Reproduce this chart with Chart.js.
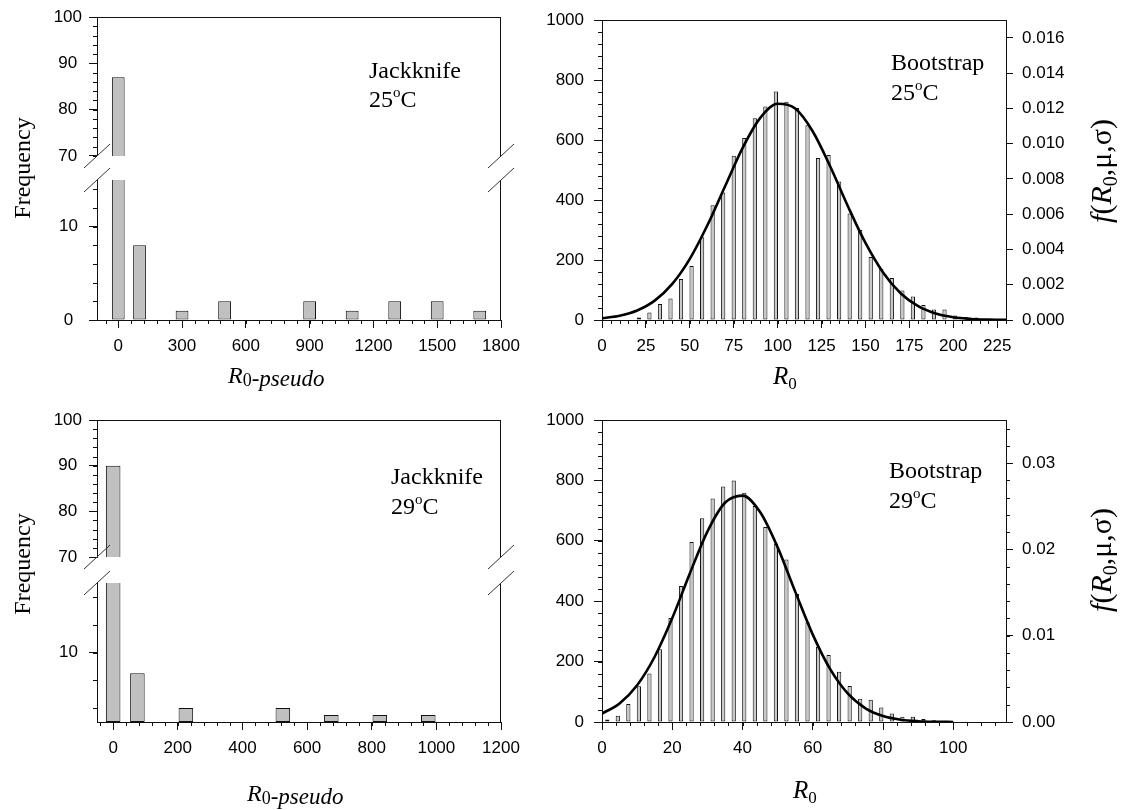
<!DOCTYPE html>
<html>
<head>
<meta charset="utf-8">
<script src="https://cdn.jsdelivr.net/npm/chart.js"></script>
<style>
  html, body { margin: 0; padding: 0; background: #fff; }
  #fig { position: relative; width: 1123px; height: 810px; overflow: hidden; background: #fff; }
  #fig canvas { position: absolute; left: 0; top: 0; }
</style>
</head>
<body>
<div id="fig"></div>
<script>
// Jackknife 25 oC: R0-pseudo bin centres and frequencies
const jack25Bins = [0, 100, 300, 500, 900, 1100, 1300, 1500, 1700];
const jack25Freq = [87, 8, 1, 2, 2, 1, 2, 2, 1];

// Jackknife 29 oC
const jack29Bins = [0, 75, 225, 525, 675, 825, 975];
const jack29Freq = [90, 7, 2, 2, 1, 1, 1];

// Bootstrap 25 oC: R0 bin centres (width 6) and counts
const boot25Bins = [21, 27, 33, 39, 45, 51, 57, 63, 69, 75, 81, 87, 93, 99, 105, 111, 117, 123,
  129, 135, 141, 147, 153, 159, 165, 171, 177, 183, 189, 195, 201, 207, 213, 219, 225];
const boot25Count = [8, 25, 53, 72, 137, 180, 276, 383, 425, 548, 607, 673, 712, 762, 728, 707, 650, 540,
  550, 462, 355, 300, 210, 170, 140, 98, 78, 50, 35, 35, 15, 10, 8, 3, 2];
// fitted density f(R0,mu,sigma)
const fit25R0 = [0, 10, 20, 30, 40, 50, 60, 70, 80, 90, 100, 110, 120, 130, 140, 150, 160, 170, 180, 190, 200, 210, 220, 230];
const fit25Dens = [0.000099, 0.000242, 0.00054, 0.0011, 0.00205, 0.00347, 0.00537, 0.00757, 0.00975, 0.01145,
  0.01226, 0.01199, 0.01069, 0.00869, 0.00645, 0.00437, 0.0027, 0.00152, 0.00078, 0.000366, 0.000156,
  0.000061, 0.000022, 0.000007];

// Bootstrap 29 oC: R0 bin centres (width 3) and counts
const boot29Bins = [1.5, 4.5, 7.5, 10.5, 13.5, 16.5, 19.5, 22.5, 25.5, 28.5, 31.5, 34.5, 37.5, 40.5, 43.5,
  46.5, 49.5, 52.5, 55.5, 58.5, 61.5, 64.5, 67.5, 70.5, 73.5, 76.5, 79.5, 82.5, 85.5, 88.5, 91.5, 94.5,
  97.5, 100.5, 103.5];
const boot29Count = [8, 21, 60, 118, 161, 241, 344, 450, 596, 675, 740, 780, 800, 759, 715, 646, 591, 538,
  424, 330, 249, 222, 166, 119, 77, 74, 48, 28, 17, 17, 10, 6, 3, 2, 1];
const fit29R0 = [0, 5, 10, 15, 20, 25, 30, 35, 40, 45, 50, 55, 60, 65, 70, 75, 80, 85, 90, 95, 100];
const fit29Dens = [0.00098, 0.00215, 0.00426, 0.00756, 0.01204, 0.01721, 0.02207, 0.02541, 0.02624, 0.02433,
  0.02024, 0.01511, 0.01013, 0.00609, 0.00328, 0.00159, 0.00069, 0.00027, 0.000094, 0.00003, 0.0000084];

const W = 1123, H = 810;
const SANS = '"Liberation Sans", Arial, sans-serif';
const SERIF = '"Liberation Serif", "Times New Roman", serif';
const INK = '#111';

const serif = (size, italic) => (italic ? 'italic ' : '') + size + 'px ' + SERIF;
const pts = (xs, ys) => xs.map((x, i) => ({ x: x, y: ys[i] }));

// page rectangle of the plot area -> layout padding on a full-page canvas
function box(L, T, R, B, yW, xH, rW) {
  return { autoPadding: false, padding: { left: L - yW, top: T, right: W - R - (rW || 0), bottom: H - B - (xH || 0) } };
}

function linAxis(o) {
  const horiz = o.pos === 'bottom';
  const a = {
    type: 'linear', position: o.pos, display: o.display !== false,
    min: o.min, max: o.max, offset: false,
    border: { display: true, color: INK, width: 1 },
    grid: { drawOnChartArea: false, offset: false, tickLength: o.tickLen || 8, tickColor: INK, tickWidth: 1 },
    ticks: {
      stepSize: o.step, includeBounds: false, autoSkip: false, maxRotation: 0, minRotation: 0,
      padding: o.pad != null ? o.pad : 3, crossAlign: o.cross || 'near',
      color: '#000', font: { family: SANS, size: 17 },
      callback: o.fmt || (v => String(v))
    },
    afterFit: horiz ? (s => { s.height = o.size; }) : (s => { s.width = o.size; })
  };
  if (o.only) a.afterBuildTicks = s => { s.ticks = o.only.map(v => ({ value: v })); };
  return a;
}

function barSet(xs, ys, fill, pct, axisId) {
  return {
    type: 'bar', data: pts(xs, ys), backgroundColor: fill, borderColor: INK, borderWidth: 1,
    borderSkipped: false, barPercentage: pct, categoryPercentage: 1, clip: 0, order: 1,
    yAxisID: axisId || 'y'
  };
}

function curveSet(xs, ys) {
  return {
    type: 'line', data: pts(xs, ys), borderColor: '#000', borderWidth: 2.6, pointRadius: 0,
    fill: false, cubicInterpolationMode: 'monotone', order: 0, yAxisID: 'y2'
  };
}

// minor tick marks: [scaleId, from, to, step, length]
function minorPlugin(list) {
  return {
    id: 'minor',
    afterDraw(chart) {
      const ctx = chart.ctx;
      ctx.save(); ctx.strokeStyle = INK; ctx.lineWidth = 1; ctx.beginPath();
      list.forEach(([id, from, to, step, len]) => {
        const s = chart.scales[id];
        const n = Math.round((to - from) / step);
        for (let i = 0; i <= n; i++) {
          const p = Math.round(s.getPixelForValue(from + i * step));
          if (s.isHorizontal()) { ctx.moveTo(p + 0.5, s.top); ctx.lineTo(p + 0.5, s.top + len); }
          else if (s.position === 'left') { ctx.moveTo(s.right, p + 0.5); ctx.lineTo(s.right - len, p + 0.5); }
          else { ctx.moveTo(s.left, p + 0.5); ctx.lineTo(s.left + len, p + 0.5); }
        }
      });
      ctx.stroke(); ctx.restore();
    }
  };
}

// frame lines and axis-break marks
function framePlugin(o) {
  return {
    id: 'frame',
    afterDraw(chart) {
      const ctx = chart.ctx, a = chart.chartArea;
      ctx.save(); ctx.strokeStyle = INK; ctx.lineWidth = 1; ctx.beginPath();
      if (o.top) { const y = Math.round(a.top) + 0.5; ctx.moveTo(a.left, y); ctx.lineTo(a.right, y); }
      if (o.right) { const x = Math.round(a.right) - 0.5; ctx.moveTo(x, a.top); ctx.lineTo(x, a.bottom); }
      ctx.stroke();
      if (o.brk) {
        ctx.strokeStyle = '#333'; ctx.beginPath();
        const y = o.brk === 'bottom' ? a.bottom : a.top;
        [a.left, a.right].forEach(x => { ctx.moveTo(x - 13, y + 12); ctx.lineTo(x + 13, y - 12); });
        ctx.stroke();
      }
      ctx.restore();
    }
  };
}

function richWidth(ctx, parts) {
  let w = 0;
  parts.forEach(p => { ctx.font = p[1]; w += ctx.measureText(p[0]).width; });
  return w;
}
function rich(ctx, parts, x, y) {
  let cx = x;
  parts.forEach(p => { ctx.font = p[1]; ctx.fillText(p[0], cx, y + (p[2] || 0)); cx += ctx.measureText(p[0]).width; });
}
function textPlugin(items) {
  return {
    id: 'labels',
    afterDraw(chart) {
      const ctx = chart.ctx;
      ctx.save(); ctx.fillStyle = '#000'; ctx.textAlign = 'left'; ctx.textBaseline = 'alphabetic';
      items.forEach(it => {
        if (it.rot) {
          ctx.save(); ctx.translate(it.x, it.y); ctx.rotate(-Math.PI / 2);
          rich(ctx, it.parts, -richWidth(ctx, it.parts) / 2, 0);
          ctx.restore();
        } else {
          rich(ctx, it.parts, it.x, it.y);
        }
      });
      ctx.restore();
    }
  };
}

const degree = t => [[t, serif(24)], ['o', serif(15), -10], ['C', serif(24)]];
const pseudo = [['R', serif(24, true)], ['0', serif(18), 3], ['-pseudo', serif(23, true), 3]];
const r0 = [['R', serif(25, true)], ['0', serif(17), 5]];
const fLabel = [['f', serif(30, true)], ['(', serif(30)], ['R', serif(30, true)], ['0', serif(20), 6], [',\u03bc,\u03c3)', serif(30)]];

function addChart(config) {
  const c = document.createElement('canvas');
  c.width = W; c.height = H;
  c.style.width = W + 'px'; c.style.height = H + 'px';
  document.getElementById('fig').appendChild(c);
  config.options.responsive = false;
  config.options.animation = false;
  config.options.events = [];
  config.options.plugins = { legend: { display: false }, tooltip: { enabled: false } };
  return new Chart(c, config);
}

const JK_FILL = '#c0c0c0';
const BS_FILL = '#c8c8c8';

// ---- top left: jackknife 25 oC, upper part of broken axis
addChart({
  type: 'bar',
  data: { datasets: [barSet(jack25Bins, jack25Freq, JK_FILL, 0.6)] },
  options: {
    layout: box(97, 16, 501, 156, 60, 0),
    scales: {
      x: linAxis({ pos: 'bottom', min: -100, max: 1800, step: 300, size: 0, display: false }),
      y: linAxis({ pos: 'left', min: 70, max: 100, step: 10, size: 60, pad: 7, cross: 'center' })
    }
  },
  plugins: [minorPlugin([['y', 70, 100, 2, 4]]), framePlugin({ top: true, right: true, brk: 'bottom' })]
});

// ---- top left: lower part
addChart({
  type: 'bar',
  data: { datasets: [barSet(jack25Bins, jack25Freq, JK_FILL, 0.6)] },
  options: {
    layout: box(97, 180, 501, 320, 60, 45),
    scales: {
      x: linAxis({ pos: 'bottom', min: -100, max: 1800, step: 300, size: 45, pad: 8 }),
      y: linAxis({ pos: 'left', min: 0, max: 15, step: 10, size: 60, pad: 11, cross: 'center' })
    }
  },
  plugins: [
    minorPlugin([['x', -60, 1800, 60, 4], ['y', 0, 14, 2, 4]]),
    framePlugin({ right: true, brk: 'top' }),
    textPlugin([
      { x: 369, y: 78, parts: [['Jackknife', serif(24)]] },
      { x: 369, y: 107, parts: degree('25') },
      { rot: true, x: 29.5, y: 168, parts: [['Frequency', serif(24)]] },
      { x: 228, y: 383, parts: pseudo }
    ])
  ]
});

// ---- bottom left: jackknife 29 oC, upper part
addChart({
  type: 'bar',
  data: { datasets: [barSet(jack29Bins, jack29Freq, JK_FILL, 0.6)] },
  options: {
    layout: box(97, 420, 501, 557, 60, 0),
    scales: {
      x: linAxis({ pos: 'bottom', min: -50, max: 1200, step: 200, size: 0, display: false }),
      y: linAxis({ pos: 'left', min: 70, max: 100, step: 10, size: 60, pad: 7, cross: 'center' })
    }
  },
  plugins: [minorPlugin([['y', 70, 100, 2, 4]]), framePlugin({ top: true, right: true, brk: 'bottom' })]
});

// ---- bottom left: lower part
addChart({
  type: 'bar',
  data: { datasets: [barSet(jack29Bins, jack29Freq, JK_FILL, 0.6)] },
  options: {
    layout: box(97, 583, 501, 722, 60, 45),
    scales: {
      x: linAxis({ pos: 'bottom', min: -50, max: 1200, step: 200, size: 45, pad: 8 }),
      y: linAxis({ pos: 'left', min: 0, max: 20, step: 10, size: 60, pad: 11, cross: 'center', only: [10] })
    }
  },
  plugins: [
    minorPlugin([['x', -40, 1200, 40, 4], ['y', 2, 18, 4, 4]]),
    framePlugin({ right: true, brk: 'top' }),
    textPlugin([
      { x: 391, y: 484, parts: [['Jackknife', serif(24)]] },
      { x: 391, y: 514, parts: degree('29') },
      { rot: true, x: 29.5, y: 564, parts: [['Frequency', serif(24)]] },
      { x: 247, y: 801, parts: pseudo }
    ])
  ]
});

// ---- top right: bootstrap 25 oC
addChart({
  type: 'bar',
  data: { datasets: [curveSet(fit25R0, fit25Dens), barSet(boot25Bins, boot25Count, BS_FILL, 0.4)] },
  options: {
    layout: box(602, 16, 1006, 320, 60, 45, 80),
    scales: {
      x: linAxis({ pos: 'bottom', min: 0, max: 230, step: 25, size: 45, pad: 8 }),
      y: linAxis({ pos: 'left', min: 0, max: 1000, step: 200, size: 60, pad: 10 }),
      y2: linAxis({ pos: 'right', min: 0, max: 0.017, step: 0.002, size: 80, tickLen: 7, pad: 9, fmt: v => v.toFixed(3) })
    }
  },
  plugins: [
    minorPlugin([['x', 0, 230, 5, 4], ['y', 0, 1000, 40, 4]]),
    framePlugin({ top: true }),
    textPlugin([
      { x: 891, y: 70, parts: [['Bootstrap', serif(24)]] },
      { x: 891, y: 100, parts: degree('25') },
      { x: 773, y: 384, parts: r0 },
      { rot: true, x: 1111, y: 171, parts: fLabel }
    ])
  ]
});

// ---- bottom right: bootstrap 29 oC
addChart({
  type: 'bar',
  data: { datasets: [curveSet(fit29R0, fit29Dens), barSet(boot29Bins, boot29Count, BS_FILL, 0.4)] },
  options: {
    layout: box(602, 420, 1006, 722, 60, 45, 80),
    scales: {
      x: linAxis({ pos: 'bottom', min: 0, max: 115, step: 20, size: 45, pad: 8 }),
      y: linAxis({ pos: 'left', min: 0, max: 1000, step: 200, size: 60, pad: 10 }),
      y2: linAxis({ pos: 'right', min: 0, max: 0.035, step: 0.01, size: 80, tickLen: 7, pad: 9, fmt: v => v.toFixed(2) })
    }
  },
  plugins: [
    minorPlugin([['x', 0, 112, 4, 4], ['y', 0, 1000, 40, 4], ['y2', 0, 0.034, 0.002, 4]]),
    framePlugin({ top: true }),
    textPlugin([
      { x: 889, y: 478, parts: [['Bootstrap', serif(24)]] },
      { x: 889, y: 508, parts: degree('29') },
      { x: 793, y: 798, parts: r0 },
      { rot: true, x: 1111, y: 560, parts: fLabel }
    ])
  ]
});
</script>
</body>
</html>
